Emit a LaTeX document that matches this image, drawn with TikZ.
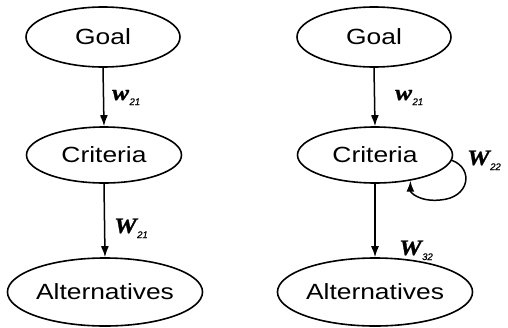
\documentclass[tikz,border=0pt]{standalone}
\usepackage{fontspec}
\usetikzlibrary{shapes.geometric,arrows.meta}
\newfontfamily\nodefont[FakeStretch=1.2]{Liberation Sans}
\newfontfamily\wfont[FakeStretch=1.15,FakeBold=1.2]{Liberation Serif Bold Italic}
\newfontfamily\subfont[FakeBold=0.6]{Liberation Sans Italic}
\newcommand{\wlab}[2]{{\wfont\fontsize{22}{22}\selectfont #1}\kern0.5pt\raisebox{-5pt}{\subfont\fontsize{9.5}{9.5}\selectfont #2}}
\tikzset{
  oval/.style={ellipse, draw, line width=1.6pt, inner sep=0pt,
    font=\nodefont\fontsize{22}{22}\selectfont},
  flow/.style={line width=1.5pt, -{Latex[length=11pt,width=8pt]}},
  lbl/.style={anchor=base west, inner sep=0pt}
}
\begin{document}
\begin{tikzpicture}[x=1pt,y=-1pt]
\useasboundingbox (0,0) rectangle (508,327);
% left
\node[oval, minimum width=154pt, minimum height=60pt] (g1) at (103,37) {Goal};
\node[oval, minimum width=155pt, minimum height=56pt] (c1) at (104,155) {Criteria};
\node[oval, minimum width=184pt, minimum height=68pt] (a1) at (105,292) {Alternatives};
\draw[flow] (g1.south) -- (c1.north);
\draw[flow] (c1.south) -- (a1.north);
\node[lbl] (l1) at (112,100) {\wlab{w}{21}};
\node[lbl] (l2) at (114,233) {\wlab{W}{21}};
% right
\node[oval, minimum width=154pt, minimum height=60pt] (g2) at (374,37) {Goal};
\node[oval, minimum width=155pt, minimum height=56pt] (c2) at (375,155) {Criteria};
\node[oval, minimum width=184pt, minimum height=68pt] (a2) at (375,292) {Alternatives};
\draw[flow] (g2.south) -- (c2.north);
\draw[flow] (c2.south) -- (a2.north);
\draw[flow] (c2.-4) .. controls +(22,8) and +(30,-2) .. (440,200) .. controls +(-20,2) and +(0,12) .. (c2.-36);
\node[lbl] (l3) at (395,100) {\wlab{w}{21}};
\node[lbl] (l4) at (467,165) {\wlab{W}{22}};
\node[lbl] (l5) at (399,255) {\wlab{W}{32}};
\end{tikzpicture}
\end{document}
